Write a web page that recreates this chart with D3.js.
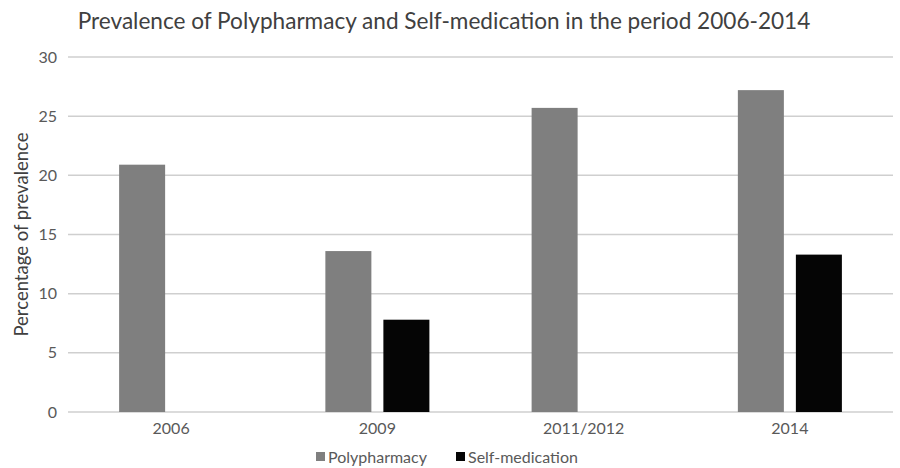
<!DOCTYPE html>
<html>
<head>
<meta charset="utf-8">
<script src="https://cdn.jsdelivr.net/npm/d3@7"></script>
<style>
  html, body { margin: 0; padding: 0; background: #fff; }
  svg { display: block; font-family: Lato, "Open Sans", sans-serif; }
</style>
</head>
<body>
<svg id="chart" width="900" height="468"></svg>
<script>
// Survey periods and prevalence (%) for each series; null = not measured
const categories = ["2006", "2009", "2011/2012", "2014"];
const seriesNames = ["Polypharmacy", "Self-medication"];
const polypharmacy = [20.9, 13.6, 25.7, 27.2];
const selfMedication = [null, 7.8, null, 13.3];
const yTicks = [0, 5, 10, 15, 20, 25, 30];

const colors = { "Polypharmacy": "#7f7f7f", "Self-medication": "#050505" };
const values = { "Polypharmacy": polypharmacy, "Self-medication": selfMedication };

const svg = d3.select("#chart");
const plot = { left: 68, right: 893, top: 57, bottom: 412 };

const x0 = d3.scaleBand().domain(categories).range([plot.left, plot.right]).padding(0);
const x1 = d3.scaleBand().domain(seriesNames).range([0, x0.bandwidth()])
  .paddingInner(0.207).paddingOuter(0.881);
const y = d3.scaleLinear().domain([0, 30]).range([plot.bottom, plot.top]);

// Title
svg.append("text")
  .attr("x", 444).attr("y", 29)
  .attr("text-anchor", "middle")
  .attr("font-size", 22.6)
  .attr("fill", "#404040")
  .text("Prevalence of Polypharmacy and Self-medication in the period 2006-2014");

// Horizontal gridlines
svg.append("g").selectAll("line").data(yTicks).join("line")
  .attr("x1", plot.left).attr("x2", plot.right)
  .attr("y1", d => y(d)).attr("y2", d => y(d))
  .attr("stroke", "#cfcfcf").attr("stroke-width", 1.5);

// Y axis labels
const yAxis = svg.append("g")
  .attr("transform", `translate(${plot.left},0)`)
  .call(d3.axisLeft(y).tickValues(yTicks).tickSize(0).tickPadding(11));
yAxis.select(".domain").remove();
yAxis.selectAll("text")
  .attr("font-family", "Lato, 'Open Sans', sans-serif")
  .attr("font-size", 16).attr("fill", "#595959");

// Y axis title
svg.append("text")
  .attr("transform", `translate(28,${(plot.top + plot.bottom) / 2}) rotate(-90)`)
  .attr("text-anchor", "middle")
  .attr("font-size", 18.5)
  .attr("fill", "#404040")
  .text("Percentage of prevalence");

// Bars
const groups = svg.append("g").selectAll("g").data(categories).join("g")
  .attr("transform", d => `translate(${x0(d)},0)`);
groups.selectAll("rect")
  .data((d, i) => seriesNames.map(s => ({ s, v: values[s][i] })).filter(e => e.v != null))
  .join("rect")
  .attr("x", d => x1(d.s))
  .attr("width", x1.bandwidth())
  .attr("y", d => y(d.v))
  .attr("height", d => y(0) - y(d.v))
  .attr("fill", d => colors[d.s]);

// X axis labels
const xAxis = svg.append("g")
  .attr("transform", `translate(0,${plot.bottom})`)
  .call(d3.axisBottom(x0).tickSize(0).tickPadding(11));
xAxis.select(".domain").remove();
xAxis.selectAll("text")
  .attr("font-family", "Lato, 'Open Sans', sans-serif")
  .attr("font-size", 16).attr("fill", "#595959");

// Legend
const legendPos = [316, 456];
const legend = svg.append("g").selectAll("g").data(seriesNames).join("g")
  .attr("transform", (d, i) => `translate(${legendPos[i]},452)`);
legend.append("rect")
  .attr("width", 9).attr("height", 9)
  .attr("fill", d => colors[d]);
legend.append("text")
  .attr("x", 12).attr("y", 10.5)
  .attr("font-size", 16).attr("fill", "#595959")
  .text(d => d);
</script>
</body>
</html>
